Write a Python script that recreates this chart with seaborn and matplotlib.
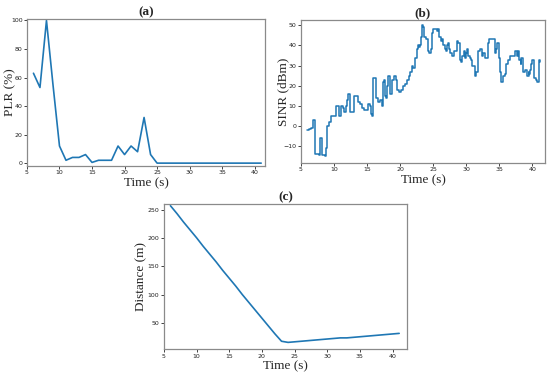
import seaborn as sns
import matplotlib.pyplot as plt
import pandas as pd

# (a) packet loss rate
plr_t = list(range(6, 42))
plr = [63, 53, 100, 55, 12, 2, 4, 4, 6, 0.5, 2, 2, 2, 12, 6, 12, 8, 32, 6, 0,
       0, 0, 0, 0, 0, 0, 0, 0, 0, 0, 0, 0, 0, 0, 0, 0]

# (b) SINR (value holds until next time)
sinr_t = [6.0, 6.2, 6.5, 6.8, 7.2, 7.7, 7.9, 8.2, 8.6, 8.8, 9.0, 9.2, 9.5, 10.0,
          10.3, 10.6, 10.8, 11.0, 11.3, 11.5, 11.8, 12.0, 12.2, 12.5, 12.8, 13.0,
          13.3, 13.6, 14.0, 14.2, 14.5, 14.9, 15.2, 15.4, 15.6, 15.8, 15.9, 16.3,
          16.4, 16.7, 17.0, 17.2, 17.4, 17.6, 17.7, 17.9, 18.0, 18.1, 18.4, 18.5,
          18.7, 18.8, 19.1, 19.4, 19.6, 19.9, 20.2, 20.5, 20.8, 21.0, 21.3, 21.5,
          21.8, 22.0, 22.3, 22.5, 22.7, 22.8, 23.0, 23.1, 23.3, 23.5, 23.6, 23.9,
          24.2, 24.4, 24.6, 24.8, 25.0, 25.5, 25.7, 25.8, 26.1, 26.2, 26.4, 26.5,
          26.8, 27.0, 27.1, 27.2, 27.4, 27.5, 27.8, 28.2, 28.6, 28.8, 29.0, 29.2,
          29.3, 29.6, 29.8, 30.0, 30.1, 30.3, 30.5, 30.7, 30.8, 31.3, 31.5, 31.7,
          32.0, 32.3, 32.5, 32.8, 33.3, 33.5, 34.0, 34.3, 34.5, 34.7, 34.9, 35.0,
          35.1, 35.3, 35.5, 35.6, 35.8, 36.0, 36.3, 36.6, 37.4, 37.6, 37.7, 37.8,
          38.0, 38.2, 38.3, 38.5, 38.6, 38.8, 39.2, 39.4, 39.5, 39.7, 39.8, 40.0,
          40.2, 40.5, 40.7, 41.0, 41.1]
sinr = [-2, -1.5, -1, 3, -13.5, -14, -6, -14, -14.5, -11, 0, 2, 5, 5,
        10, 10, 5, 10, 9, 7, 10, 13, 16, 7, 7, 15,
        15, 12, 11, 9, 8, 8, 11, 10, 6, 5, 24, 23,
        14, 12, 13, 10, 22, 23, 15, 14, 20, 25, 24, 16,
        17, 23, 25, 23, 18, 17, 18, 20, 21, 23, 25, 27,
        30, 29, 34, 38, 40, 39, 40, 44, 50, 49, 44, 43,
        37, 36, 38, 46, 48, 47, 48, 44, 44, 42, 43, 40,
        38, 37, 40, 41, 38, 36, 35, 37, 42, 41, 33, 32,
        35, 37, 34, 36, 38, 35, 34, 33, 30, 25, 27, 37,
        38, 35, 36, 34, 41, 43, 43, 36, 38, 41, 40, 34,
        27, 22, 22, 25, 26, 31, 33, 35, 37, 36, 35, 37,
        33, 31, 34, 28, 27, 28, 25, 27, 26, 28, 31, 33,
        24, 23, 22, 33, 32]

# (c) distance
dist_t = list(range(6, 42))
dist = [258, 244, 229, 215, 201, 186, 172, 158, 143, 129, 115, 100, 86, 72,
        58, 44, 30, 17, 15, 16, 17, 18, 19, 20, 21, 22, 23, 23, 24, 25, 26,
        27, 28, 29, 30, 31]

sns.set_theme(style="ticks")
plt.rcParams['font.family'] = ['DejaVu Sans']

serif = ['Liberation Serif', 'DejaVu Serif']
spine_col = '#8a8a8a'
line_col = '#1f77b4'

fig = plt.figure(figsize=(5.5, 3.73), dpi=100)
ax_a = fig.add_axes([0.049, 0.555, 0.433, 0.394])
ax_b = fig.add_axes([0.547, 0.563, 0.444, 0.383])
ax_c = fig.add_axes([0.298, 0.064, 0.442, 0.389])

df_a = pd.DataFrame({"t": plr_t, "v": plr})
df_b = pd.DataFrame({"t": sinr_t, "v": sinr})
df_c = pd.DataFrame({"t": dist_t, "v": dist})

sns.lineplot(data=df_a, x="t", y="v", ax=ax_a, color=line_col, linewidth=1.2,
             estimator=None, sort=False)
sns.lineplot(data=df_b, x="t", y="v", ax=ax_b, color=line_col, linewidth=1.1,
             estimator=None, sort=False, drawstyle="steps-post")
sns.lineplot(data=df_c, x="t", y="v", ax=ax_c, color=line_col, linewidth=1.2,
             estimator=None, sort=False)

setup = [
    (ax_a, "(a)", "PLR (%)", (5, 41.6), (-2, 101), range(0, 101, 20), -0.046),
    (ax_b, "(b)", "SINR (dBm)", (5, 41.9), (-18.2, 52.5), range(-10, 51, 10), -0.047),
    (ax_c, "(c)", "Distance (m)", (5, 42.2), (3, 261), range(50, 251, 50), -0.068),
]
for ax, title, ylab, xl, yl, yt, lx in setup:
    ax.set_xlim(xl)
    ax.set_ylim(yl)
    ax.set_xticks(range(5, 41, 5))
    ax.set_yticks(list(yt))
    ax.tick_params(labelsize=4.5, length=2, width=0.6, pad=1.2, colors='#222222')
    for s in ax.spines.values():
        s.set_color(spine_col)
        s.set_linewidth(0.9)
    ax.set_xlabel("Time (s)", family=serif, fontsize=9.5, labelpad=1)
    ax.set_ylabel(ylab, family=serif, fontsize=9.5)
    ax.yaxis.set_label_coords(lx, 0.5)
    ax.set_title(title, family=serif, fontsize=9.5, fontweight='bold', pad=3)

plt.savefig('out.png', dpi=100)
plt.close()
